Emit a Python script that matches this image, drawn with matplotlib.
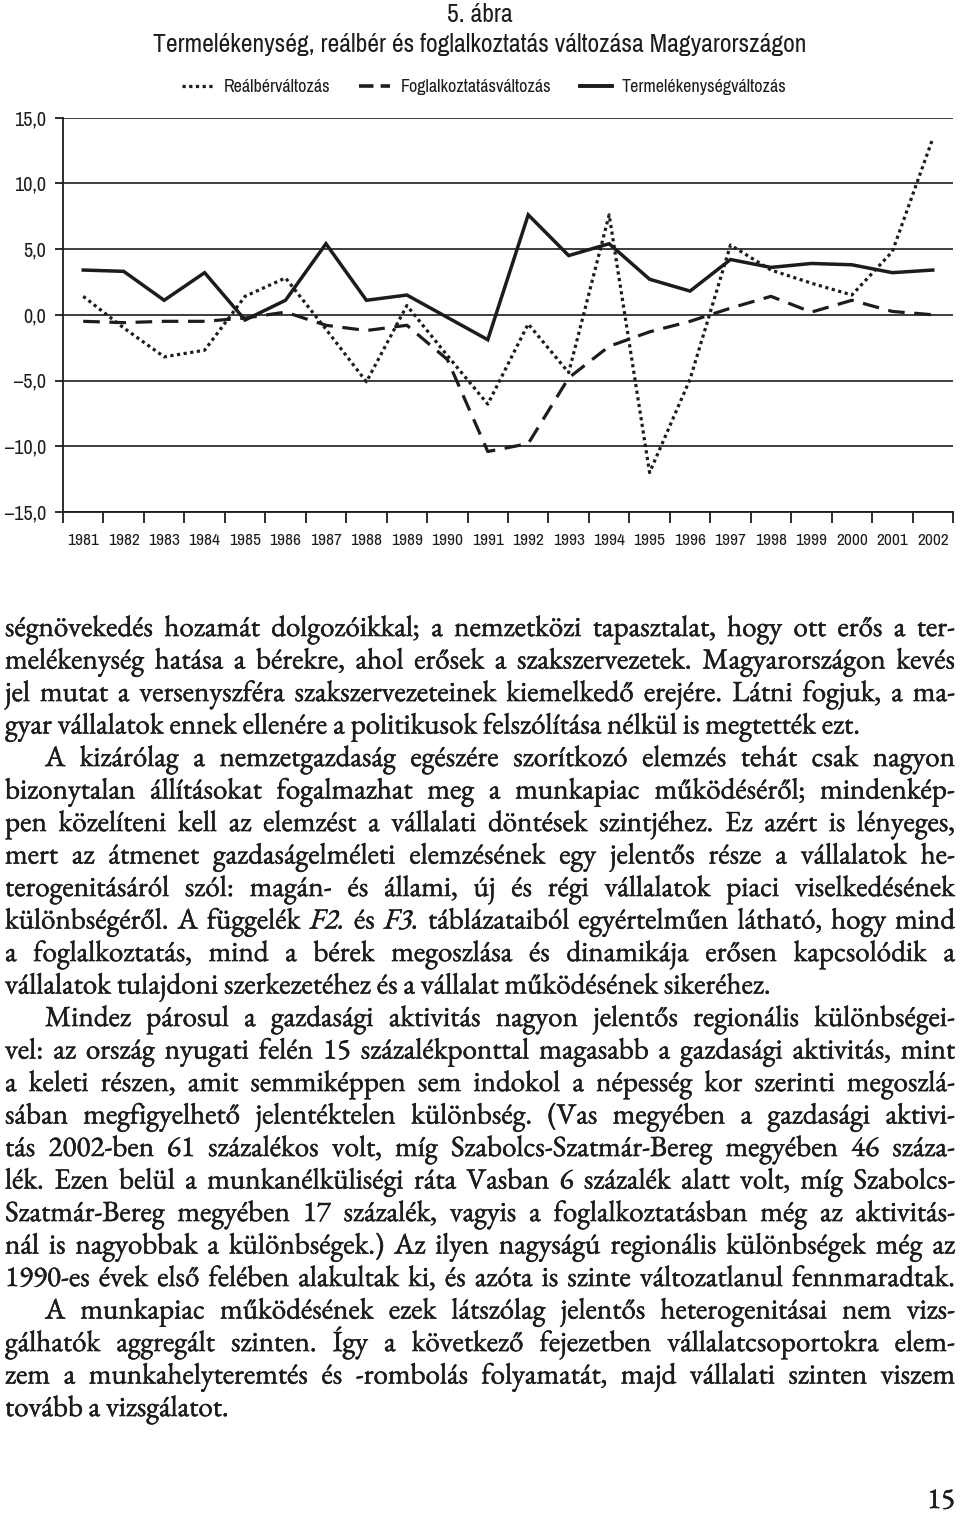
import matplotlib
matplotlib.use('Agg')
import matplotlib.pyplot as plt
import matplotlib.patheffects as pe
import numpy as np
from matplotlib.lines import Line2D
from matplotlib.ticker import FixedLocator, NullFormatter

# chart data (read from the page)
years = [str(y) for y in range(1981, 2003)]
real_wage = [1.4, -1.0, -3.2, -2.7, 1.4, 2.8, -1.1, -5.1, 0.7, -3.1, -6.8,
             -0.7, -4.4, 7.6, -12.0, -4.9, 5.3, 3.4, 2.4, 1.5, 4.8, 13.4]
employment = [-0.5, -0.6, -0.5, -0.5, -0.25, 0.2, -0.8, -1.2, -0.8, -3.4, -10.4,
              -9.8, -4.8, -2.4, -1.3, -0.5, 0.5, 1.4, 0.2, 1.1, 0.25, 0.0]
productivity = [3.4, 3.3, 1.1, 3.2, -0.4, 1.1, 5.4, 1.1, 1.5, -0.2, -1.9,
                7.6, 4.5, 5.4, 2.7, 1.8, 4.2, 3.6, 3.9, 3.8, 3.2, 3.4]
y_ticks = [15, 10, 5, 0, -5, -10, -15]
y_labels = ['15,0', '10,0', '5,0', '0,0', '\u20135,0', '\u201310,0', '\u201315,0']
series_names = ['Reálbérváltozás', 'Foglalkoztatásváltozás', 'Termelékenységváltozás']

# body text below the chart, one entry per printed line
paragraphs = [
    ["ségnövekedés hozamát dolgozóikkal; a nemzetközi tapasztalat, hogy ott erős a ter-",
     "melékenység hatása a bérekre, ahol erősek a szakszervezetek. Magyarországon kevés",
     "jel mutat a versenyszféra szakszervezeteinek kiemelkedő erejére. Látni fogjuk, a ma-",
     "gyar vállalatok ennek ellenére a politikusok felszólítása nélkül is megtették ezt."],
    ["A kizárólag a nemzetgazdaság egészére szorítkozó elemzés tehát csak nagyon",
     "bizonytalan állításokat fogalmazhat meg a munkapiac működéséről; mindenkép-",
     "pen közelíteni kell az elemzést a vállalati döntések szintjéhez. Ez azért is lényeges,",
     "mert az átmenet gazdaságelméleti elemzésének egy jelentős része a vállalatok he-",
     "terogenitásáról szól: magán- és állami, új és régi vállalatok piaci viselkedésének",
     "különbségéről. A függelék F2. és F3. táblázataiból egyértelműen látható, hogy mind",
     "a foglalkoztatás, mind a bérek megoszlása és dinamikája erősen kapcsolódik a",
     "vállalatok tulajdoni szerkezetéhez és a vállalat működésének sikeréhez."],
    ["Mindez párosul a gazdasági aktivitás nagyon jelentős regionális különbségei-",
     "vel: az ország nyugati felén 15 százalékponttal magasabb a gazdasági aktivitás, mint",
     "a keleti részen, amit semmiképpen sem indokol a népesség kor szerinti megoszlá-",
     "sában megfigyelhető jelentéktelen különbség. (Vas megyében a gazdasági aktivi-",
     "tás 2002-ben 61 százalékos volt, míg Szabolcs-Szatmár-Bereg megyében 46 száza-",
     "lék. Ezen belül a munkanélküliségi ráta Vasban 6 százalék alatt volt, míg Szabolcs-",
     "Szatmár-Bereg megyében 17 százalék, vagyis a foglalkoztatásban még az aktivitás-",
     "nál is nagyobbak a különbségek.) Az ilyen nagyságú regionális különbségek még az",
     "1990-es évek első felében alakultak ki, és azóta is szinte változatlanul fennmaradtak."],
    ["A munkapiac működésének ezek látszólag jelentős heterogenitásai nem vizs-",
     "gálhatók aggregált szinten. Így a következő fejezetben vállalatcsoportokra elem-",
     "zem a munkahelyteremtés és -rombolás folyamatát, majd vállalati szinten viszem",
     "tovább a vizsgálatot."],
]
italic_words = {'F2.', 'F3.'}
page_number = '15'

INK = '#1c1c1c'
COND = ['Archivo Narrow', 'Liberation Sans']
SERIF = ['EB Garamond', 'Liberation Serif']
DOT = (0, (1, 1.1))
DASH = (0, (5.2, 3.0))

W, H = 960, 1518
fig = plt.figure(figsize=(W / 100, H / 100), dpi=100)
fig.patch.set_facecolor('white')

# ---- chart ----
ax = fig.add_axes([63 / W, 1 - 512 / H, 890 / W, (512 - 117.5) / H])
x = np.arange(len(years)) + 0.5
ax.plot(x, real_wage, color=INK, lw=2.3, linestyle=DOT, dash_capstyle='butt')
ax.plot(x, employment, color=INK, lw=2.3, linestyle=DASH, dash_capstyle='butt')
ax.plot(x, productivity, color=INK, lw=2.5, solid_joinstyle='miter')

ax.set_xlim(0, len(years))
ax.set_ylim(-15, 15)
ax.set_yticks(y_ticks)
ax.set_yticklabels(y_labels, family=COND, fontsize=14.5, color=INK)
ax.yaxis.grid(True, color=INK, lw=1.2)
ax.set_axisbelow(True)
ax.xaxis.set_major_locator(FixedLocator(np.arange(len(years) + 1)))
ax.xaxis.set_major_formatter(NullFormatter())
ax.xaxis.set_minor_locator(FixedLocator(x))
ax.set_xticklabels(years, minor=True, family=COND, fontsize=12.5, color=INK)
ax.tick_params(axis='x', which='major', length=8, width=1.3, color=INK, direction='out')
ax.tick_params(axis='x', which='minor', length=0, pad=15)
ax.tick_params(axis='y', length=6, width=1.3, color=INK, pad=6)
for side in ['top', 'right']:
    ax.spines[side].set_visible(False)
for side in ['left', 'bottom']:
    ax.spines[side].set_color(INK)
    ax.spines[side].set_linewidth(1.3)

fig.text(0.5, 1 - 14 / H, '5. ábra', ha='center', va='center',
         family=COND, fontsize=18.5, color=INK)
fig.text(0.5, 1 - 45 / H, 'Termelékenység, reálbér és foglalkoztatás változása Magyarországon',
         ha='center', va='center', family=COND, fontsize=18.5, color=INK)

# legend keys: shorter dash pattern so two dashes fit in the key like on the page
keys = [Line2D([], [], color=INK, lw=2.3, linestyle=DOT, dash_capstyle='butt'),
        Line2D([], [], color=INK, lw=2.6, linestyle=(0, (4.0, 2.0)), dash_capstyle='butt'),
        Line2D([], [], color=INK, lw=2.8)]
fig.legend(keys, series_names, loc='center', bbox_to_anchor=(484 / W, 1 - 87 / H),
           ncol=3, frameon=False, handlelength=1.75, columnspacing=1.6, handletextpad=0.55,
           prop={'family': COND, 'size': 13}, labelcolor=INK)

# ---- justified body text ----
renderer = fig.canvas.get_renderer()


def text_width(s, size, style='normal'):
    t = fig.text(0, 0, s, fontsize=size, family=SERIF, style=style)
    w = t.get_window_extent(renderer).width
    t.remove()
    return w


left, right, indent = 5, 955, 40
base = 20.0
# match the printed size: the first word of the page is about 148 px wide
size = base * 148 / text_width('ségnövekedés', base)
space = text_width('a a', size) - text_width('aa', size)
ink = [pe.withStroke(linewidth=0.35, foreground=INK)]

y0, step = 636, 32.5
row = 0
for pi, para in enumerate(paragraphs):
    for li, line in enumerate(para):
        words = line.split(' ')
        x0 = left + (indent if (li == 0 and pi > 0) else 0)
        styles = ['italic' if w in italic_words else 'normal' for w in words]
        widths = [text_width(w, size, s) for w, s in zip(words, styles)]
        last = (li == len(para) - 1)
        gap = space
        if len(words) > 1:
            fill = (right - x0 - sum(widths)) / (len(words) - 1)
            if not last or fill < space * 1.6:
                gap = max(fill, space * 0.3)
        yb = 1 - (y0 + step * row) / H
        xp = x0
        for w, s, wd in zip(words, styles, widths):
            fig.text(xp / W, yb, w, fontsize=size, family=SERIF, style=s,
                     va='baseline', ha='left', color=INK, path_effects=ink)
            xp += wd + gap
        row += 1

fig.text(right / W, 1 - 1508 / H, page_number, ha='right', va='baseline',
         fontsize=size, family=SERIF, color=INK, path_effects=ink)

fig.savefig('out.png', dpi=100, facecolor='white')
